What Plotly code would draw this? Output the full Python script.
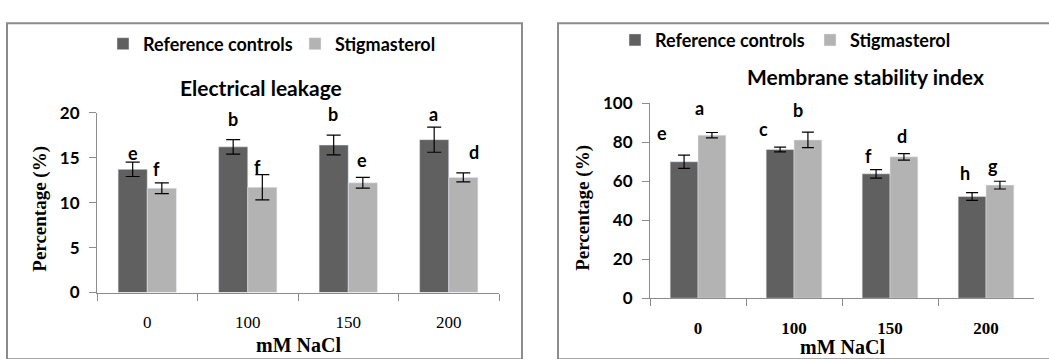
import plotly.graph_objects as go

W, H = 1049, 359

categories = ["0", "100", "150", "200"]
series_names = ["Reference controls", "Stigmasterol"]

# Electrical leakage (%)
el_ref = [13.7, 16.2, 16.4, 17.0]
el_ref_err = [0.8, 0.8, 1.1, 1.4]
el_stig = [11.6, 11.7, 12.2, 12.8]
el_stig_err = [0.6, 1.4, 0.6, 0.5]
el_letters_ref = ["e", "b", "b", "a"]
el_letters_stig = ["f", "f", "e", "d"]
el_letter_y_ref = [15.5, 19.3, 19.8, 19.9]
el_letter_y_stig = [13.7, 14.0, 14.7, 15.6]

# Membrane stability index (%)
msi_ref = [70.0, 76.3, 63.8, 52.2]
msi_ref_err = [3.4, 1.2, 2.2, 2.0]
msi_stig = [83.6, 81.2, 72.5, 58.0]
msi_stig_err = [1.4, 4.0, 1.7, 2.0]
msi_letters_ref = ["e", "c", "f", "h"]
msi_letters_stig = ["a", "b", "d", "g"]
msi_letter_y_ref = [84.5, 87.0, 73.0, 64.0]
msi_letter_y_stig = [97.5, 96.5, 83.0, 68.0]

el_yticks = [0, 5, 10, 15, 20]
msi_yticks = [0, 20, 40, 60, 80, 100]

DARK = "#606060"
LIGHT = "#b3b3b3"
AXIS = "#8c8c8c"
SANS = "Lato"
SERIF = "Liberation Serif"


def px(x):
    return x / W


def py(y):
    return 1 - y / H


fig = go.Figure()

fig.add_trace(go.Bar(x=categories, y=el_ref, name=series_names[0], marker_color=DARK,
                     error_y=dict(type="data", array=el_ref_err, color="black", thickness=1.2, width=7),
                     xaxis="x", yaxis="y", legend="legend"))
fig.add_trace(go.Bar(x=categories, y=el_stig, name=series_names[1], marker_color=LIGHT,
                     error_y=dict(type="data", array=el_stig_err, color="black", thickness=1.2, width=7),
                     xaxis="x", yaxis="y", legend="legend"))
fig.add_trace(go.Bar(x=categories, y=msi_ref, name=series_names[0], marker_color=DARK,
                     error_y=dict(type="data", array=msi_ref_err, color="black", thickness=1.2, width=6),
                     xaxis="x2", yaxis="y2", legend="legend2"))
fig.add_trace(go.Bar(x=categories, y=msi_stig, name=series_names[1], marker_color=LIGHT,
                     error_y=dict(type="data", array=msi_stig_err, color="black", thickness=1.2, width=6),
                     xaxis="x2", yaxis="y2", legend="legend2"))

xcommon = dict(type="category", showline=True, linecolor=AXIS, linewidth=1, showgrid=False,
               ticks="outside", tickson="boundaries", ticklen=7, tickcolor=AXIS, zeroline=False,
               range=[-0.5, len(categories) - 0.5])
ycommon = dict(showline=True, linecolor=AXIS, linewidth=1, showgrid=False, zeroline=False,
               ticks="outside", ticklen=7, tickcolor=AXIS,
               tickfont=dict(family=SANS, size=17, color="black", weight="bold"))

legcommon = dict(orientation="h", xanchor="left", yanchor="middle", bgcolor="rgba(0,0,0,0)",
                 font=dict(family=SANS, size=18, color="black", weight="bold"),
                 entrywidthmode="pixels", itemclick=False)

fig.update_layout(
    width=W, height=H, autosize=False,
    margin=dict(l=0, r=0, t=0, b=0),
    paper_bgcolor="white", plot_bgcolor="white",
    barmode="group", bargap=0.42, bargroupgap=0,
    xaxis=dict(xcommon, domain=[px(97), px(499)], anchor="y",
               tickfont=dict(family=SERIF, size=17, color="black"), ticklabelstandoff=14),
    yaxis=dict(ycommon, domain=[py(299), py(108)], range=[0, 20], tickvals=el_yticks,
               anchor="x", ticklabelstandoff=6),
    xaxis2=dict(xcommon, domain=[px(650), px(1034)], anchor="y2",
                tickfont=dict(family=SERIF, size=17, color="black", weight="bold"), ticklabelstandoff=14),
    yaxis2=dict(ycommon, domain=[py(305), py(98)], range=[0, 100], tickvals=msi_yticks,
                anchor="x2", ticklabelstandoff=6),
    legend=dict(legcommon, x=px(103), y=py(35), entrywidth=147),
    legend2=dict(legcommon, x=px(615), y=py(31), entrywidth=150),
    showlegend=True,
)

# panel frames
fig.add_shape(type="rect", xref="paper", yref="paper", x0=px(7), x1=px(522), y0=py(370), y1=py(13),
              line=dict(color=AXIS, width=2))
fig.add_shape(type="rect", xref="paper", yref="paper", x0=px(558), x1=px(1060), y0=py(370), y1=py(13),
              line=dict(color=AXIS, width=2))

ann = []
center = dict(xanchor="center", yanchor="middle", xref="paper", yref="paper", showarrow=False)
# titles
ann.append(dict(center, text="<b>Electrical leakage</b>", x=px(261), y=py(81),
                font=dict(family=SANS, size=21, color="black")))
ann.append(dict(center, text="<b>Membrane stability index</b>", x=px(865), y=py(70),
                font=dict(family=SANS, size=21, color="black")))
# axis titles
for cx, cy in [(40, 210), (583, 209)]:
    ann.append(dict(center, text="<b>Percentage (%)</b>", x=px(cx), y=py(cy), textangle=-90,
                    font=dict(family=SERIF, size=19, color="black")))
for cx, cy in [(298, 355), (842, 357)]:
    ann.append(dict(center, text="<b>mM NaCl</b>", x=px(cx), y=py(cy),
                    font=dict(family=SERIF, size=20, color="black")))

# significance letters (annotation x uses the category index on category axes)
el_shift_ref = [-14, -15, -15, -15]
el_shift_stig = [9, 10, 14, 25]
msi_shift_ref = [-36, -31, -22, -21]
msi_shift_stig = [1, 4, 12, 7]
lf = dict(family=SANS, size=18, color="black", weight="bold")
for i, c in enumerate(categories):
    ann.append(dict(text=el_letters_ref[i], x=i, y=el_letter_y_ref[i], xref="x", yref="y",
                    xshift=el_shift_ref[i], showarrow=False, font=lf, yanchor="middle"))
    ann.append(dict(text=el_letters_stig[i], x=i, y=el_letter_y_stig[i], xref="x", yref="y",
                    xshift=el_shift_stig[i], showarrow=False, font=lf, yanchor="middle"))
    ann.append(dict(text=msi_letters_ref[i], x=i, y=msi_letter_y_ref[i], xref="x2", yref="y2",
                    xshift=msi_shift_ref[i], showarrow=False, font=lf, yanchor="middle"))
    ann.append(dict(text=msi_letters_stig[i], x=i, y=msi_letter_y_stig[i], xref="x2", yref="y2",
                    xshift=msi_shift_stig[i], showarrow=False, font=lf, yanchor="middle"))

fig.update_layout(annotations=ann)

fig.write_html("out.html")
